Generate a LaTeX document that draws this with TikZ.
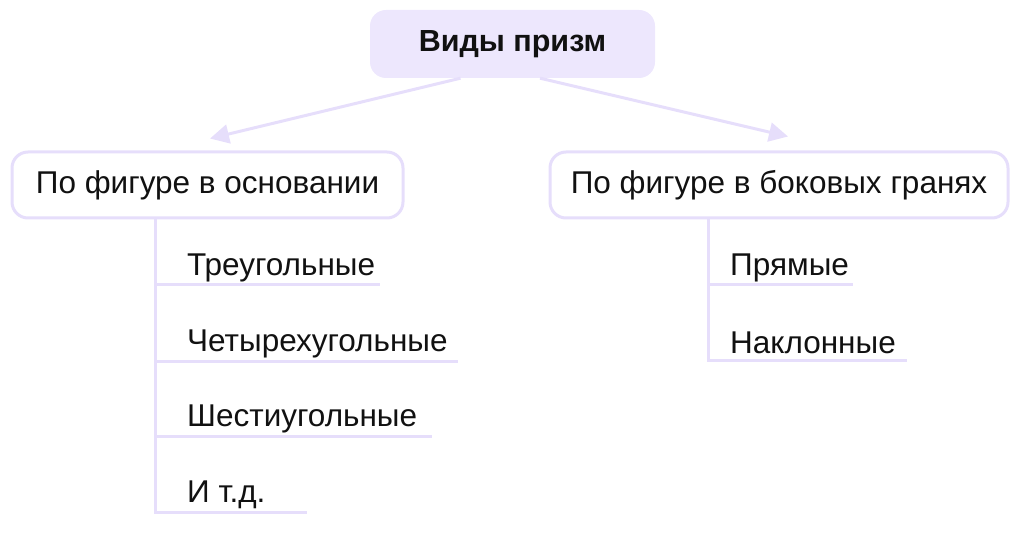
\documentclass[tikz,border=0pt]{standalone}
\usepackage{fontspec}
\setmainfont{Liberation Sans}
\usetikzlibrary{arrows.meta,positioning}
\definecolor{boxfill}{HTML}{EDE7FD}
\definecolor{lav}{HTML}{E6DEFB}
\definecolor{ink}{HTML}{111111}
\tikzset{
  topbox/.style={draw=none,fill=boxfill,rounded corners=16pt,minimum width=285pt,minimum height=68pt,text=ink,font=\fontsize{30.5}{34}\selectfont\bfseries,inner sep=0pt},
  catbox/.style={draw=lav,line width=3pt,fill=white,rounded corners=16pt,minimum height=66pt,text=ink,font=\fontsize{31.5}{35}\selectfont,inner sep=0pt},
  conn/.style={draw=lav,line width=3pt,-{Triangle[length=19pt,width=19pt]}},
  tree/.style={draw=lav,line width=3pt},
  item/.style={anchor=west,text=ink,font=\fontsize{31.5}{35}\selectfont,inner sep=0pt}
}
\begin{document}
\begin{tikzpicture}[x=1pt,y=-1pt]
\useasboundingbox (0,0) rectangle (1024,534);
\node[topbox] (top) at (512.5,44) {Виды призм};
\node[catbox,minimum width=391pt] (l) at (207.5,185) {\raisebox{-2.5pt}{По фигуре в основании}};
\node[catbox,minimum width=458pt] (r) at (779,185) {\raisebox{-2.5pt}{По фигуре в боковых гранях}};
\draw[conn] ([xshift=-52pt]top.south) -- ([xshift=2.5pt,yshift=12pt]l.north);
\draw[conn] ([xshift=27.5pt]top.south) -- ([xshift=9pt,yshift=14pt]r.north);
% left items
\node[item] (l1) at (187,268) {Треугольные};
\node[item] (l2) at (187,344) {Четырехугольные};
\node[item] (l3) at (187,419) {Шестиугольные};
\node[item] (l4) at (187,495) {И т.д.};
\coordinate (l1e) at (380,285);
\coordinate (l2e) at (458,361);
\coordinate (l3e) at (432,436);
\coordinate (l4e) at (307,512);
\draw[tree] ([xshift=-52.5pt]l.south) |- (l4e);
\draw[tree] ([xshift=-52.5pt]l.south |- l1e) -- (l1e);
\draw[tree] ([xshift=-52.5pt]l.south |- l2e) -- (l2e);
\draw[tree] ([xshift=-52.5pt]l.south |- l3e) -- (l3e);
% right items
\node[item] (r1) at (730,268) {Прямые};
\node[item] (r2) at (730,343) {Наклонные};
\coordinate (r1e) at (853,285);
\coordinate (r2e) at (907,360);
\draw[tree] ([xshift=-71pt]r.south) |- (r2e);
\draw[tree] ([xshift=-71pt]r.south |- r1e) -- (r1e);
\end{tikzpicture}
\end{document}
